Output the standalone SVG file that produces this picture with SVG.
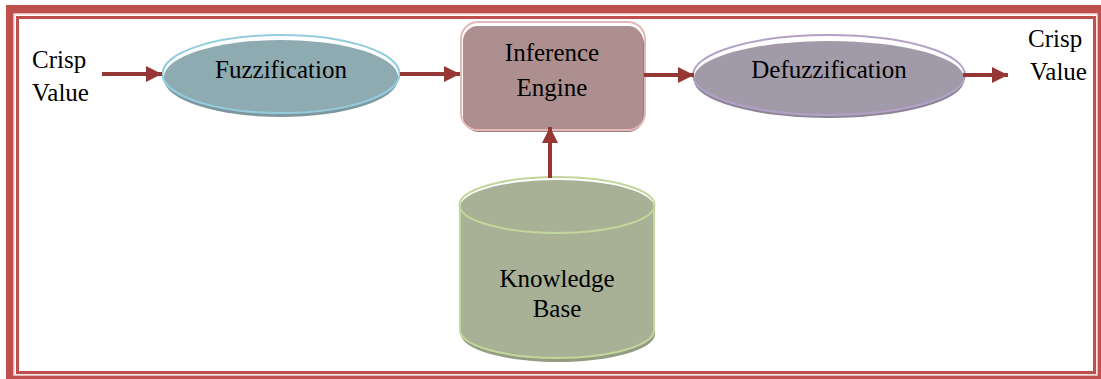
<svg xmlns="http://www.w3.org/2000/svg" width="1101" height="379" viewBox="0 0 1101 379">
<defs>
<style>
.t{font-family:"Liberation Serif","Times New Roman",serif;font-size:25px;fill:#000;text-anchor:middle}
.tl{font-family:"Liberation Serif","Times New Roman",serif;font-size:25px;fill:#000}
.c{stroke:#953735;stroke-width:4;fill:none}
</style>
<marker id="ah" viewBox="0 0 10 10" refX="10" refY="5" markerWidth="4" markerHeight="4" markerUnits="strokeWidth" orient="auto">
<path d="M0,0 L10,5 L0,10 Z" fill="#953735"/>
</marker>
</defs>
<rect width="1101" height="379" fill="#fff"/>
<g id="frame">
<path d="M6,5 H1110 V390 H6 Z M14,14 V375 H1097 V14 Z" fill="#C0504D" fill-rule="evenodd"/>
<rect x="14" y="14" width="1083" height="361" fill="none" stroke="#F2DCDB" stroke-width="1.5"/>
<rect x="17.5" y="17.5" width="1077" height="355" fill="none" stroke="#C0504D" stroke-width="3"/>
</g>
<g id="crisp-in">
<text class="tl" x="32" y="68">Crisp</text>
<text class="tl" x="32" y="101">Value</text>
</g>
<g id="crisp-out">
<text class="tl" x="1028" y="47">Crisp</text>
<text class="tl" x="1030" y="80">Value</text>
</g>
<g id="fuzzification">
<ellipse cx="281" cy="79" rx="117" ry="38" fill="#7D979E"/>
<ellipse cx="281" cy="77" rx="117" ry="37" fill="#8FABB2"/>
<ellipse cx="281" cy="74" rx="118.5" ry="39" fill="none" stroke="#93CDDD" stroke-width="2"/>
<text class="t" x="281" y="78">Fuzzification</text>
</g>
<g id="inference-engine">
<rect x="463" y="28" width="181" height="104" rx="16" fill="#987B7B"/>
<rect x="463" y="26" width="180" height="103" rx="15" fill="#AE8F8F"/>
<rect x="461" y="22" width="184" height="108" rx="17" fill="none" stroke="#E6B9B8" stroke-width="2"/>
<text class="t" x="552" y="61">Inference</text>
<text class="t" x="552" y="96">Engine</text>
</g>
<g id="defuzzification">
<ellipse cx="829" cy="80" rx="135" ry="38" fill="#8D8695"/>
<ellipse cx="829" cy="78" rx="135" ry="37" fill="#A19AA8"/>
<ellipse cx="829" cy="75" rx="136" ry="40" fill="none" stroke="#B3A2C7" stroke-width="2"/>
<text class="t" x="829" y="78">Defuzzification</text>
</g>
<g id="knowledge-base">
<path d="M460,207 V332 A97,28 0 0 0 654,332 V207 Z" fill="#939C82" transform="translate(1,2)"/>
<path d="M460,207 V330 A97,28 0 0 0 654,330 V207 Z" fill="#A8B196"/>
<ellipse cx="557" cy="207" rx="97" ry="27" fill="#A8B196"/>
<path d="M460,205 V330 A97,28 0 0 0 654,330 V205" fill="none" stroke="#C3D69B" stroke-width="2"/>
<ellipse cx="557" cy="205" rx="97.5" ry="28" fill="none" stroke="#C3D69B" stroke-width="2"/>
<text class="t" x="557" y="287">Knowledge</text>
<text class="t" x="557" y="317">Base</text>
</g>
<g id="connectors">
<line class="c" x1="102" y1="74" x2="162" y2="74" marker-end="url(#ah)"/>
<line class="c" x1="400" y1="74" x2="460" y2="74" marker-end="url(#ah)"/>
<line class="c" x1="644" y1="75" x2="694" y2="75" marker-end="url(#ah)"/>
<line class="c" x1="963" y1="75" x2="1008" y2="75" marker-end="url(#ah)"/>
<line class="c" x1="550" y1="178" x2="550" y2="127" marker-end="url(#ah)"/>
</g>
</svg>
